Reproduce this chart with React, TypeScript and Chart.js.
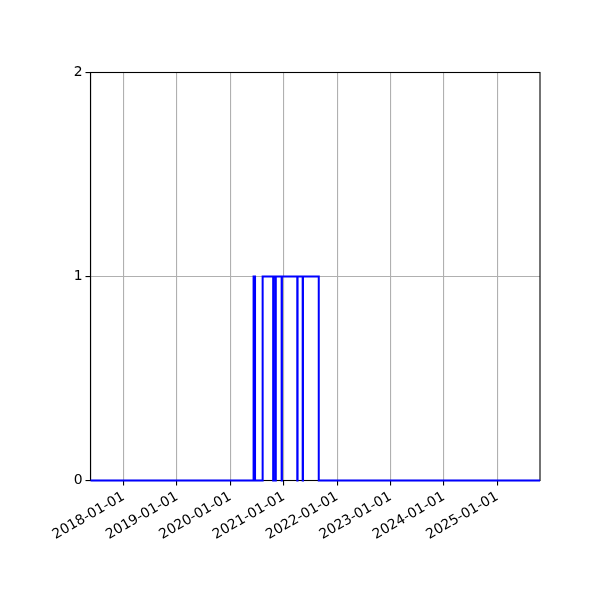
import { useEffect, useRef } from "react";
import Chart from "chart.js/auto";

// change points of the 0/1 step series (value holds until the next date)
const stepDates = [
  "2017-05-19",
  "2020-06-08",
  "2020-06-18",
  "2020-08-09",
  "2020-10-20",
  "2020-10-22",
  "2020-11-05",
  "2020-11-07",
  "2020-12-17",
  "2020-12-19",
  "2021-04-03",
  "2021-04-05",
  "2021-05-10",
  "2021-05-12",
  "2021-08-28",
  "2025-10-20",
];
const stepValues = [0, 1, 0, 1, 0, 1, 0, 1, 0, 1, 0, 1, 0, 1, 0, 0];

const yearTicks = [
  "2018-01-01",
  "2019-01-01",
  "2020-01-01",
  "2021-01-01",
  "2022-01-01",
  "2023-01-01",
  "2024-01-01",
  "2025-01-01",
];
const yTicks = [0, 1, 2];

const X_MIN = "2017-05-19";
const X_MAX = "2025-10-20";

const toMs = (d: string) => new Date(d + "T00:00:00Z").getTime();

const fmtDate = (ms: number) => new Date(ms).toISOString().slice(0, 10);

const FONT = { family: "'DejaVu Sans', sans-serif", size: 13.9 };

const framePlugin = {
  id: "frame",
  beforeDatasetsDraw(chart: Chart) {
    const { ctx, chartArea } = chart;
    ctx.save();
    ctx.strokeStyle = "#000";
    ctx.lineWidth = 1.1;
    ctx.strokeRect(
      chartArea.left,
      chartArea.top,
      chartArea.right - chartArea.left,
      chartArea.bottom - chartArea.top
    );
    ctx.restore();
  },
};

export default function App() {
  const canvasRef = useRef<HTMLCanvasElement>(null);

  useEffect(() => {
    if (!canvasRef.current) return;
    const ctx = canvasRef.current.getContext("2d");
    if (!ctx) return;

    const points = stepDates.map((d, i) => ({ x: toMs(d), y: stepValues[i] }));

    const chart = new Chart(ctx, {
      type: "line",
      data: {
        datasets: [
          {
            data: points,
            // chart.js "before": hold previous value, jump at the next point
            stepped: "before",
            borderColor: "#0000ff",
            borderWidth: 2,
            pointRadius: 0,
            fill: false,
            clip: false,
          },
        ],
      },
      options: {
        responsive: false,
        animation: false,
        devicePixelRatio: 1,
        layout: { padding: { top: 72.5, right: 60, left: 0, bottom: 0 } },
        plugins: {
          legend: { display: false },
          tooltip: { enabled: false },
        },
        scales: {
          x: {
            type: "linear",
            min: toMs(X_MIN),
            max: toMs(X_MAX),
            afterBuildTicks: (axis: any) => {
              axis.ticks = yearTicks.map((d) => ({ value: toMs(d) }));
            },
            afterFit: (axis: any) => {
              axis.height = 119.5;
            },
            ticks: {
              callback: (v: any) => fmtDate(Number(v)),
              color: "#000",
              font: FONT,
              minRotation: 30,
              maxRotation: 30,
              padding: 3,
              autoSkip: false,
            },
            grid: {
              color: "#b0b0b0",
              lineWidth: 1.1,
              tickColor: "#000",
              tickLength: 5,
            },
            border: { color: "#000", width: 1.1 },
          },
          y: {
            min: 0,
            max: 2,
            afterBuildTicks: (axis: any) => {
              axis.ticks = yTicks.map((v) => ({ value: v }));
            },
            afterFit: (axis: any) => {
              axis.width = 90.5;
            },
            ticks: {
              color: "#000",
              font: FONT,
              padding: 3,
            },
            grid: {
              color: "#b0b0b0",
              lineWidth: 1.1,
              tickColor: "#000",
              tickLength: 5,
            },
            border: { color: "#000", width: 1.1 },
          },
        },
      },
      plugins: [framePlugin],
    });

    return () => {
      chart.destroy();
    };
  }, []);

  return (
    <div style={{ position: "fixed", top: 0, left: 0, width: 600, height: 600, background: "#fff" }}>
      <canvas ref={canvasRef} width={600} height={600}></canvas>
    </div>
  );
}
